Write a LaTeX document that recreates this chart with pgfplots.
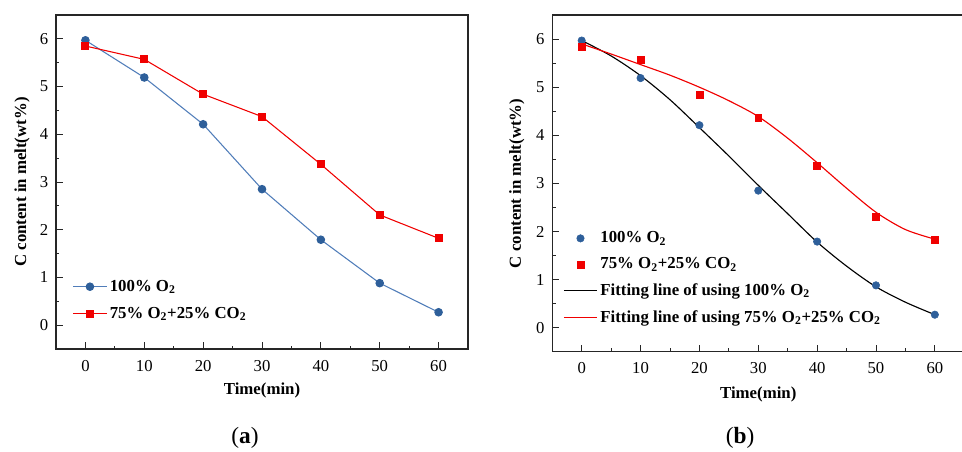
\documentclass[border=0pt]{standalone}
\usepackage{pgfplots}
\pgfplotsset{compat=1.18}
\usepackage{fontspec}
\setmainfont{Liberation Serif}
\definecolor{oblue}{RGB}{46,95,154}
\definecolor{lblue}{RGB}{80,125,185}
\definecolor{ored}{RGB}{240,0,0}
\pgfplotsset{
 panel/.style={
  scale only axis, width=309pt,
  xmin=-5,xmax=65,ymin=-0.5,ymax=6.5,
  xtick={0,10,...,60}, ytick={0,1,...,6},
  minor x tick num=1, minor y tick num=1,
  xtick pos=bottom, ytick pos=left, tick align=inside,
  major tick length=5pt, minor tick length=2.5pt,
  axis line style={black!85, line width=0.9pt},
  every tick/.style={black!85, line width=0.7pt},
  /pgf/number format/assume math mode=true,
  ticklabel style={font=\fontsize{12.5}{14}\selectfont},
  xticklabel style={anchor=center, yshift=-12.5pt},
  yticklabel style={anchor=center, xshift=-9pt},
  label style={font=\bfseries\fontsize{12.6}{15}\selectfont},
  legend style={draw=none, fill=none, font=\bfseries\fontsize{12.6}{15}\selectfont,
    row sep=6.5pt, anchor=north west, inner sep=0pt, cells={anchor=west}},
  legend image code/.code={\draw[mark repeat=2,mark phase=2] plot coordinates {(0pt,0pt)(12.5pt,0pt)(25pt,0pt)};},
 },
 bdot/.style={mark=*, mark size=2.8pt, mark options={fill=oblue, draw=oblue, solid}},
 rsq/.style={mark=square*, mark size=2.6pt, mark options={fill=ored, draw=ored, solid}},
}
\begin{document}
\begin{tikzpicture}
\useasboundingbox (0,0) rectangle (721.5pt,339pt);
% (a)
\begin{axis}[panel, height=250.5pt, at={(42pt,77.25pt)}, anchor=south west,
  xlabel={Time(min)}, ylabel={C content in melt(wt\%)},
  xlabel style={at={([yshift=-30.75pt]axis description cs:0.5,0)}, anchor=center},
  ylabel style={at={([xshift=-25.5pt]axis description cs:0,0.5)}, anchor=center},
  legend style={at={(axis description cs:0.04,0.215)}}]
\addplot[color=lblue, line width=0.8pt, bdot] coordinates {(0,5.97)(10,5.19)(20,4.21)(30,2.85)(40,1.79)(50,0.88)(60,0.27)};
\addlegendentry{100\% O\textsubscript{2}}
\addplot[color=ored, line width=0.8pt, rsq] coordinates {(0,5.85)(10,5.57)(20,4.84)(30,4.37)(40,3.37)(50,2.31)(60,1.82)};
\addlegendentry{75\% O\textsubscript{2}+25\% CO\textsubscript{2}}
\end{axis}
% (b)
\begin{axis}[panel, height=252.5pt, at={(414.2pt,75.2pt)}, anchor=south west,
  xlabel={Time(min)}, ylabel={C content in melt(wt\%)},
  xlabel style={at={([yshift=-32pt]axis description cs:0.5,0)}, anchor=center},
  ylabel style={at={([xshift=-26.5pt]axis description cs:0,0.5)}, anchor=center},
  legend style={at={(axis description cs:0.026,0.365)}, row sep=5.6pt}]
\addplot[only marks, bdot] coordinates {(0,5.97)(10,5.19)(20,4.21)(30,2.85)(40,1.79)(50,0.88)(60,0.27)};
\addlegendentry{100\% O\textsubscript{2}}
\addplot[only marks, rsq] coordinates {(0,5.85)(10,5.57)(20,4.84)(30,4.37)(40,3.37)(50,2.31)(60,1.82)};
\addlegendentry{75\% O\textsubscript{2}+25\% CO\textsubscript{2}}
\addplot[color=black, line width=0.85pt, smooth, no marks] coordinates {(0,5.97)(5,5.65)(10,5.24)(15,4.74)(20,4.16)(25,3.57)(30,2.96)(35,2.37)(40,1.78)(45,1.28)(50,0.85)(55,0.53)(60,0.27)};
\addlegendentry{Fitting line of using 100\% O\textsubscript{2}}
\addplot[color=ored, line width=0.85pt, smooth, no marks] coordinates {(0,5.90)(5,5.69)(10,5.47)(15,5.25)(20,5.00)(25,4.72)(30,4.39)(35,3.94)(40,3.43)(45,2.90)(50,2.40)(55,2.04)(60,1.84)};
\addlegendentry{Fitting line of using 75\% O\textsubscript{2}+25\% CO\textsubscript{2}}
\end{axis}
\node[font=\fontsize{17.5}{20}\selectfont] at (183.75pt,10.5pt) {(\textbf{a})};
\node[font=\fontsize{17.5}{20}\selectfont] at (555pt,10.5pt) {(\textbf{b})};
\end{tikzpicture}
\end{document}
